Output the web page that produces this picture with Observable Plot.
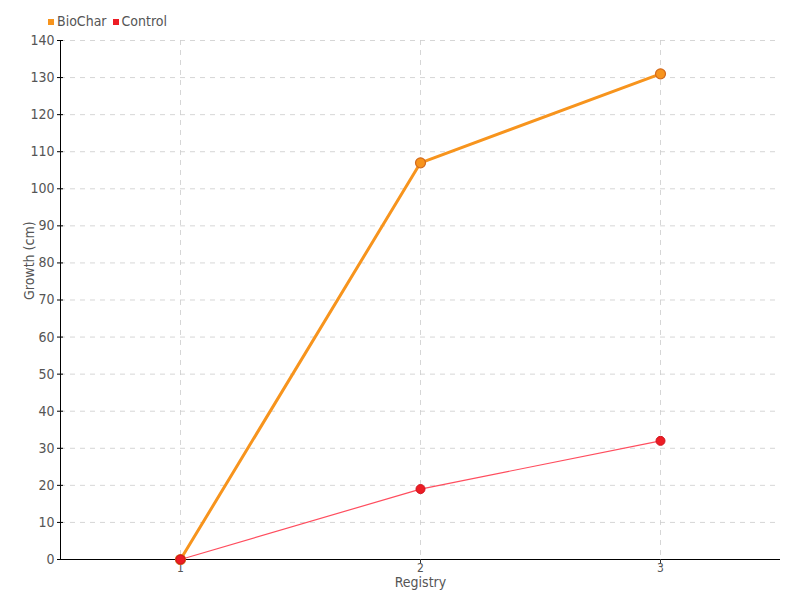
<!DOCTYPE html>
<html><head><meta charset="utf-8">
<script src="https://cdn.jsdelivr.net/npm/d3@7"></script>
<script src="https://cdn.jsdelivr.net/npm/@observablehq/plot@0.6"></script>
<style>
body{margin:0;background:#fff;font-family:"DejaVu Sans",sans-serif;font-stretch:condensed;}
#wrap{position:relative;width:800px;height:600px;}
#legend{position:absolute;left:48px;top:13px;font-size:14px;color:#555;display:flex;gap:6px;align-items:center;font-stretch:condensed;}
#legend span.sw{display:inline-block;width:6px;height:6px;margin-right:3px;vertical-align:middle;}
svg text{font-stretch:condensed;}
</style></head><body>
<div id="wrap"><div id="legend"></div><div id="chart"></div></div>
<script>
const registry = [1, 2, 3];
const biochar = [0, 107, 131];
const control = [0, 19, 32];
const seriesNames = ["BioChar", "Control"];
const seriesColors = ["#f7941d", "#ed1c24"];
const yTicks = d3.range(0, 141, 10);

const rows = [];
registry.forEach((r, i) => {
  rows.push({x: r, y: biochar[i], s: "BioChar"});
  rows.push({x: r, y: control[i], s: "Control"});
});
const bio = rows.filter(d => d.s === "BioChar");
const ctl = rows.filter(d => d.s === "Control");

const lg = document.getElementById("legend");
seriesNames.forEach((n, i) => {
  const el = document.createElement("span");
  el.innerHTML = `<span class="sw" style="background:${seriesColors[i]}"></span>${n}`;
  lg.appendChild(el);
});

const ff = '"DejaVu Sans",sans-serif';
const chart = Plot.plot({
  width: 800, height: 600,
  marginLeft: 60, marginRight: 20, marginTop: 40, marginBottom: 41,
  style: {fontFamily: ff, fontSize: "14px", color: "#555"},
  x: {domain: [0.5, 3.5], label: null},
  y: {domain: [0, 140], label: null},
  marks: [
    Plot.gridY(yTicks, {stroke: "#ccc", strokeOpacity: 0.8, strokeDasharray: "5,5"}),
    Plot.gridX(registry, {stroke: "#ccc", strokeOpacity: 0.8, strokeDasharray: "5,5"}),
    Plot.ruleY([0], {stroke: "#000", strokeWidth: 1}),
    Plot.ruleX([0.5], {stroke: "#000", strokeWidth: 1}),
    Plot.axisY({ticks: yTicks, tickSize: 6, dx: 3, text: null, stroke: "#000", label: null}),
    Plot.axisY({ticks: yTicks, tickSize: 0, tickPadding: 6, fill: "#555", label: null, fontSize: 14}),
    Plot.axisX({ticks: registry, tickSize: 4, tickPadding: 0, tickFormat: d => String(d), stroke: "#333", fill: "#555", label: null, fontSize: 12}),
    Plot.text(["Registry"], {frameAnchor: "bottom", dy: 27, fill: "#555", fontSize: 14}),
    Plot.text(["Growth (cm)"], {frameAnchor: "left", dx: -31, rotate: -90, fill: "#555", fontSize: 14}),
    Plot.line(ctl, {x: "x", y: "y", stroke: "#ff4d5e", strokeWidth: 1.2}),
    Plot.line(bio, {x: "x", y: "y", stroke: "#f7941d", strokeWidth: 3}),
    Plot.dot(bio, {x: "x", y: "y", r: 5, fill: "#f7941d", stroke: "#d2691e", strokeWidth: 1.2}),
    Plot.dot(ctl, {x: "x", y: "y", r: 4.5, fill: "#ed1c24", stroke: "#d0121c", strokeWidth: 1})
  ]
});
document.getElementById("chart").appendChild(chart);
</script></body></html>
